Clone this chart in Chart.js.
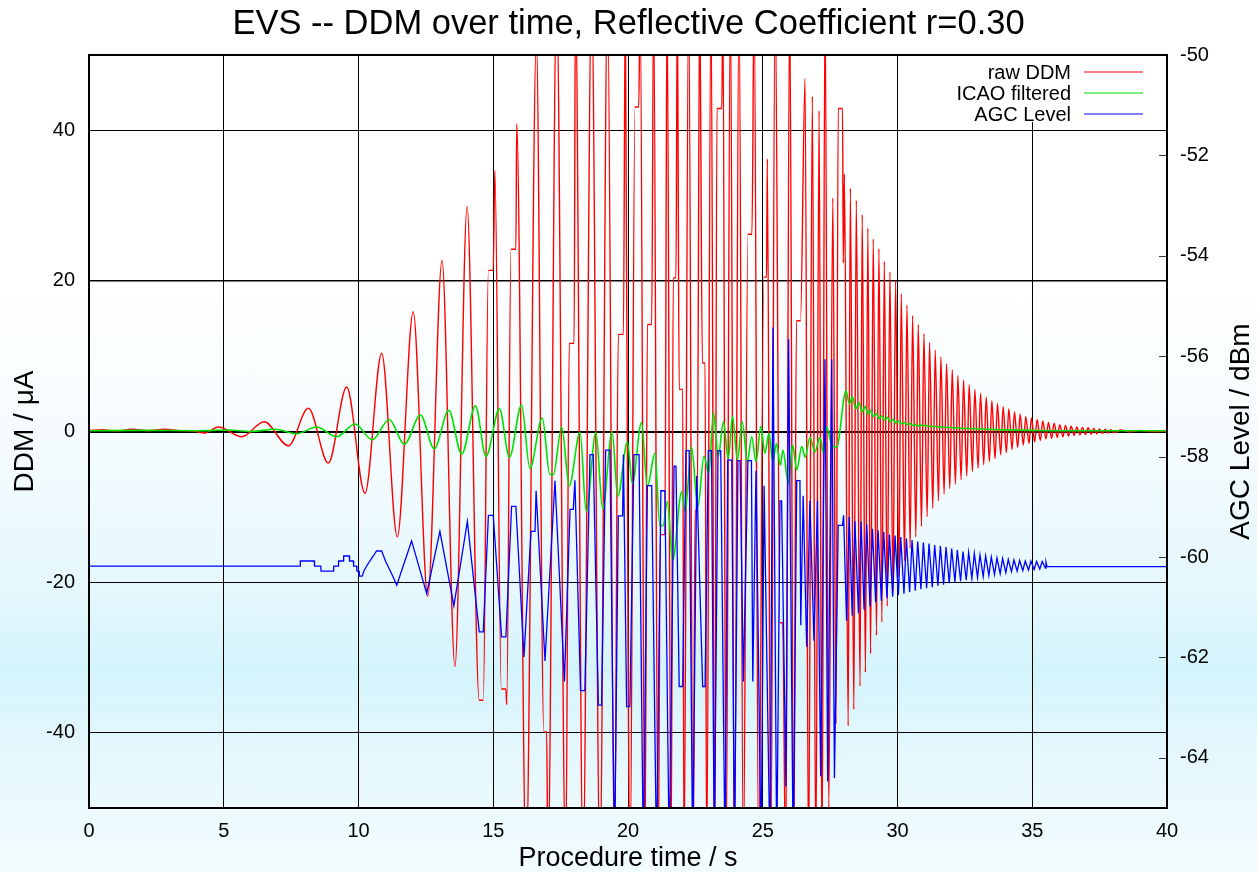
<!DOCTYPE html>
<html><head><meta charset="utf-8">
<script src="https://cdn.jsdelivr.net/npm/chart.js@4.4.1/dist/chart.umd.min.js"></script>
<style>
html,body{margin:0;padding:0;}
body{width:1257px;height:872px;overflow:hidden;
background:linear-gradient(to bottom,#ffffff 0px,#ffffff 270px,#f6fcfe 430px,#e6f8fd 580px,#d4f4fc 670px,#e3f7fd 745px,#f3fcfe 872px);}
#wrap{position:relative;width:1257px;height:872px}
</style></head><body><div id="wrap"><canvas id="c" width="1257" height="872"></canvas></div>
<script>
const titleText = 'EVS -- DDM over time, Reflective Coefficient r=0.30';
const xTitle = 'Procedure time / s';
const yTitle = 'DDM / \u03bcA';
const y2Title = 'AGC Level / dBm';
const seriesNames = ['raw DDM', 'ICAO filtered', 'AGC Level'];
const xTicks = [0, 5, 10, 15, 20, 25, 30, 35, 40];
const yTicks = [-40, -20, 0, 20, 40];
const y2Ticks = [-64, -62, -60, -58, -56, -54, -52, -50];

// raw DDM (uA): extremes
const ddmTime = [0,0.5,1.0,1.6,2.2,2.8,3.3,3.9,4.3,4.8,5.67,6.5,7.4,8.14,8.88,9.56,10.24,10.86,11.44,12.03,12.57,13.1,13.58,14.03,14.48,14.63,14.82,15.0,15.06,15.3,15.47,15.5,15.66,15.84,15.87,
16.22,16.6,16.88,16.98,17.03,17.35,17.69,17.82,18.0,18.05,18.33,18.65,18.96,19.24,19.5,19.64,19.83,19.9,20.01,20.08,20.26,20.4,20.45,20.63,20.72,20.88,20.95,21.12,21.2,21.37,21.45,21.6,21.68,21.78,21.83,21.9,22.03,22.08,22.25,22.42,22.49,22.57,22.66,22.76,22.86,22.92,23.08,23.22,23.3,23.48,23.52,23.64,23.8,23.95,24.12,24.28,24.45,24.6,24.68,24.85,25.04,25.14,25.17,25.3,25.46,25.64,25.74,25.85,26.0,26.15,26.25,26.4,26.57,26.7,26.84,26.97,27.09,27.2,27.31,27.45,27.6,27.72,27.8,27.96,27.99,28.03,
28.17,28.25,28.38,28.47,28.61,28.69,28.81,28.90,29.00,29.10,29.22,29.31,29.42,29.51,29.62,29.72,29.83,29.93,30.05,30.14,30.26,30.35,30.47,30.56,30.68,30.77,30.89,30.98,31.10,31.19,31.31,31.40,31.52,31.61,31.73,31.82,31.94,32.03,32.15,32.24,32.36,32.45,32.57,32.66,32.78,32.87,32.99,33.08,33.20,33.29,33.41,33.50,33.62,33.71,33.83,33.92,34.04,34.13,34.25,34.34,34.46,34.55,34.67,34.76,34.88,34.97,35.09,35.18,35.30,35.39,35.51,35.60,35.72,35.81,35.93,36.02,36.14,36.23,36.35,36.44,36.56,36.65,36.77,36.86,36.98,37.07,37.19,37.28,37.40,37.49,37.61,37.70,37.82,37.91,38.03,38.3,38.6,39.0,39.5,40];
const ddmValue = [0.1,0.25,0.05,0.3,0.1,0.3,0.15,0.05,-0.2,0.6,-0.7,1.3,-1.9,3.1,-4.2,5.9,-8.2,10.4,-14.0,15.9,-21.9,22.7,-31.2,29.9,-35.7,-35.7,21.4,21.4,34.7,-34.2,-34.2,-36.3,24.2,24.2,40.9,
-58,52,-39.9,-39.9,-58,58,-58,11.7,11.7,58,-58,58,-58,58,-58,12.9,12.9,58,-34.1,-58,43.1,43.1,58,-58,14.2,14.2,58,-58,-13.7,-13.7,58,-58,20.4,20.4,58,5.6,5.6,-58,58,-58,-10.5,-10.5,58,9.1,9.1,-58,58,-58,42.9,42.9,58,-58,58,-58,58,-58,26.2,26.2,58,-58,20.5,20.5,36.2,-58,58,-25.4,-25.4,-58,58,-58,14.7,14.7,46.9,-58,44.5,-58,42.6,-58,58,-50,31,-38.8,42.9,42.9,22.4,34.2,
-39.1,32.3,-36.9,30.7,-33.8,28.8,-32.0,27.0,-29.5,25.6,-27.1,24.3,-25.3,22.6,-23.2,21.2,-21.3,20.0,-19.3,18.3,-17.2,16.8,-15.5,15.4,-14.0,14.2,-12.6,13.0,-11.3,11.8,-10.2,10.8,-9.2,9.9,-8.3,9.0,-7.6,8.2,-7.0,7.4,-6.4,6.8,-5.9,6.2,-5.3,5.6,-4.9,5.1,-4.4,4.6,-4.0,4.1,-3.6,3.7,-3.1,3.3,-2.8,3.0,-2.4,2.6,-2.1,2.3,-1.8,2.0,-1.6,1.8,-1.4,1.6,-1.2,1.4,-1.0,1.2,-0.9,1.1,-0.8,0.9,-0.7,0.8,-0.6,0.7,-0.5,0.6,-0.45,0.55,-0.4,0.5,-0.35,0.4,-0.3,0.35,-0.25,0.3,-0.2,0.25,-0.15,0.2,-0.05,0.15,0.0,0.05];

// ICAO filtered (uA)
const icaoTime = [0,2,4,5.2,6.0,6.9,7.7,8.45,9.19,9.87,10.51,11.14,11.70,12.30,12.81,13.35,13.83,14.34,14.73,15.23,15.6,16.05,16.36,16.82,17.1,17.23,17.54,17.82,18.22,18.45,18.81,19.06,19.41,19.62,19.98,20.16,20.5,20.72,21.0,21.18,21.3,21.46,21.66,21.99,22.12,22.36,22.59,22.82,23.0,23.17,23.35,23.54,23.72,23.88,24.06,24.24,24.43,24.59,24.75,24.93,25.08,25.23,25.37,25.51,25.65,25.75,25.95,26.11,26.26,26.45,26.57,26.75,26.94,27.12,27.25,27.37,27.56,27.74,28.09,28.21,28.33,28.45,28.58,28.68,28.8,28.9,29.0,29.1,29.22,29.32,29.42,29.52,29.63,29.73,29.84,29.94,30.05,30.15,30.26,30.36,30.47,30.57,30.68,30.78,30.89,31.2,31.6,32.1,32.6,33.3,34,35,36,40];
const icaoValue = [0.1,0.15,0.1,0.2,0.0,0.3,-0.3,0.6,-0.7,1.0,-1.1,1.6,-1.7,2.2,-2.3,2.8,-3.0,3.4,-3.3,3.0,-3.4,3.5,-4.9,1.8,-5.7,-5.7,0.6,-7.2,-0.1,-10.6,-0.1,-10.3,0.0,-8.6,-1.4,-6.9,1.2,-7.3,-2.9,-12.5,-12.5,-9.3,-17.1,-8.0,-10.6,-2.1,-10.0,-3.3,-5.5,2.5,-3.3,1.3,-3.6,2.0,-3.8,1.3,-4.0,-0.7,-4.0,0.7,-2.9,-0.2,-4.0,-1.6,-4.5,-2.5,-6.9,-1.8,-5.1,-2.0,-3.4,-0.8,-2.7,-0.8,-2.8,0.6,-1.8,-2.1,5.4,3.7,4.6,3.0,3.8,2.6,3.3,2.3,2.8,2.0,2.4,1.7,2.1,1.5,1.9,1.3,1.6,1.1,1.4,1.0,1.2,0.9,1.05,0.8,0.95,0.7,0.85,0.7,0.6,0.5,0.4,0.3,0.22,0.15,0.1,0.1];

// AGC level (dBm)
const agcTime = [0,7.83,7.84,8.36,8.37,8.6,8.61,9.07,9.08,9.25,9.26,9.44,9.45,9.66,9.67,9.81,9.82,9.93,9.94,10.02,10.03,10.14,10.2,10.3,10.42,10.55,10.67,10.86,11.0,11.2,11.42,11.97,12.53,13.02,13.54,14.04,14.48,14.63,14.82,15.0,15.31,15.47,15.68,15.84,16.14,16.4,16.55,16.59,16.92,17.29,17.64,17.85,17.97,18.03,18.24,18.4,18.59,18.71,18.9,19.02,19.17,19.33,
19.5,19.64,19.8,19.83,19.95,20.07,20.22,20.41,20.57,20.72,20.88,21.06,21.22,21.37,21.53,21.71,21.78,21.9,22.03,22.15,22.27,22.4,22.55,22.77,22.86,22.98,23.1,23.2,23.34,23.44,23.6,23.7,23.85,23.95,24.08,24.16,24.28,24.45,24.58,24.63,24.75,24.94,25.05,25.27,25.38,25.52,25.64,25.7,25.86,25.96,26.13,26.26,26.38,26.41,26.5,26.63,26.75,26.9,27.03,27.15,27.31,27.41,27.56,27.66,27.8,27.96,28.0,
28.11,28.21,28.32,28.42,28.55,28.65,28.76,28.86,28.98,29.07,29.19,29.28,29.4,29.49,29.61,29.7,29.82,29.91,30.03,30.12,30.24,30.33,30.45,30.54,30.66,30.75,30.87,30.96,31.08,31.17,31.29,31.38,31.5,31.59,31.71,31.8,31.92,32.01,32.13,32.22,32.34,32.43,32.55,32.64,32.76,32.85,32.97,33.06,33.18,33.27,33.39,33.48,33.6,33.69,33.81,33.9,34.02,34.11,34.23,34.32,34.44,34.53,34.65,34.74,34.86,34.95,35.07,35.16,35.28,35.37,35.49,35.51,35.55,40];
const agcValue = [-60.18,-60.18,-60.08,-60.08,-60.18,-60.18,-60.28,-60.28,-60.18,-60.18,-60.08,-60.08,-59.98,-59.98,-60.08,-60.08,-60.18,-60.18,-60.28,-60.28,-60.38,-60.38,-60.28,-60.18,-60.08,-59.98,-59.88,-59.88,-60.08,-60.3,-60.56,-59.68,-60.73,-59.49,-60.97,-59.29,-61.49,-61.49,-59.17,-59.17,-61.59,-61.59,-58.99,-58.99,-61.99,-59.49,-59.49,-58.68,-62.07,-58.48,-62.48,-59.05,-59.05,-58.47,-62.66,-62.66,-57.96,-57.96,-62.95,-62.95,-57.87,-57.87,
-66,-59.18,-59.18,-57.96,-62.98,-62.98,-57.96,-57.96,-66,-58.58,-58.58,-66,-58.68,-58.68,-66,-58.19,-58.19,-62.58,-62.58,-57.88,-57.88,-66,-58.38,-62.58,-62.58,-57.88,-57.88,-66,-57.88,-57.88,-66,-58.07,-58.07,-66,-58.08,-58.08,-62.48,-58.08,-58.08,-62.48,-58.28,-66,-58.58,-66,-55.43,-66,-58.88,-58.88,-64.57,-55.66,-66,-58.48,-58.48,-61.36,-58.78,-61.79,-58.88,-61.67,-58.88,-64.37,-56.06,-64.47,-56.06,-64.4,-59.37,-59.37,-59.17,
-61.27,-59.2,-61.17,-59.29,-61.12,-59.3,-61.05,-59.35,-60.98,-59.44,-60.9,-59.47,-60.87,-59.5,-60.82,-59.55,-60.79,-59.57,-60.76,-59.6,-60.73,-59.63,-60.7,-59.66,-60.67,-59.69,-60.64,-59.71,-60.62,-59.73,-60.6,-59.76,-60.57,-59.78,-60.55,-59.8,-60.52,-59.83,-60.5,-59.86,-60.48,-59.89,-60.46,-59.91,-60.43,-59.93,-60.41,-59.96,-60.39,-59.98,-60.37,-60.0,-60.35,-60.02,-60.33,-60.03,-60.31,-60.05,-60.29,-60.06,-60.28,-60.07,-60.27,-60.08,-60.26,-60.08,-60.25,-60.09,-60.24,-60.09,-60.22,-60.1,-60.19,-60.19];

const seriesColors = ['#ff0000', '#00e000', '#0000ff'];
const FONT = "'Liberation Sans', Arial, sans-serif";

function pts(t, v) { return t.map((x, i) => ({x: x, y: v[i]})); }

const frameLegend = {
  id: 'frameLegend',
  afterDatasetsDraw(chart) {
    const {ctx, chartArea: a} = chart;
    ctx.save();
    // key area (opaque, no border)
    ctx.fillStyle = '#ffffff';
    ctx.fillRect(945, a.top, a.right - 945, 67);
    ctx.font = '20px ' + FONT;
    ctx.textAlign = 'right';
    ctx.textBaseline = 'middle';
    chart.data.datasets.forEach((ds, i) => {
      const y = a.top + 17 + i * 21;
      ctx.fillStyle = '#000';
      ctx.fillText(ds.label, a.right - 96, y + 1);
      ctx.strokeStyle = ds.borderColor;
      ctx.lineWidth = 1.2;
      ctx.beginPath();
      ctx.moveTo(a.right - 83, y);
      ctx.lineTo(a.right - 24, y);
      ctx.stroke();
    });
    // inward ticks of right axis
    const s2 = chart.scales.y2;
    ctx.strokeStyle = '#333';
    ctx.lineWidth = 1;
    y2Ticks.forEach(v => {
      const py = Math.round(s2.getPixelForValue(v)) + 0.5;
      ctx.beginPath();
      ctx.moveTo(a.right - 8, py);
      ctx.lineTo(a.right, py);
      ctx.stroke();
    });
    // frame
    ctx.strokeStyle = '#000';
    ctx.lineWidth = 2;
    ctx.strokeRect(a.left, a.top, a.right - a.left, a.bottom - a.top);
    // right axis title (reads bottom to top)
    ctx.translate(1241, (a.top + a.bottom) / 2);
    ctx.rotate(-Math.PI / 2);
    ctx.font = '28px ' + FONT;
    ctx.textAlign = 'center';
    ctx.fillStyle = '#000';
    ctx.fillText(y2Title, 0, 0);
    ctx.restore();
  }
};

new Chart(document.getElementById('c'), {
  type: 'line',
  data: {
    datasets: [
      {label: seriesNames[0], data: pts(ddmTime, ddmValue), borderColor: seriesColors[0], borderWidth: 1.4, pointRadius: 0, cubicInterpolationMode: 'monotone', yAxisID: 'y', order: 3},
      {label: seriesNames[1], data: pts(icaoTime, icaoValue), borderColor: seriesColors[1], borderWidth: 1.6, pointRadius: 0, cubicInterpolationMode: 'monotone', yAxisID: 'y', order: 2},
      {label: seriesNames[2], data: pts(agcTime, agcValue), borderColor: seriesColors[2], borderWidth: 1.3, pointRadius: 0, tension: 0, yAxisID: 'y2', order: 1}
    ]
  },
  options: {
    responsive: false,
    animation: false,
    devicePixelRatio: 1,
    events: [],
    layout: {padding: 0},
    plugins: {
      legend: {display: false},
      tooltip: {enabled: false},
      title: {display: true, text: titleText, color: '#000',
        font: {family: FONT, size: 34.5, weight: 'normal', lineHeight: 1.2},
        padding: {top: 3.8, bottom: 9.8}}
    },
    scales: {
      x: {
        type: 'linear', min: 0, max: 40,
        afterBuildTicks: s => { s.ticks = xTicks.map(v => ({value: v})); },
        afterFit: s => { s.height = 64; },
        ticks: {color: '#000', font: {family: FONT, size: 20}, padding: 11, maxRotation: 0},
        grid: {color: '#000', lineWidth: 1, drawTicks: false},
        border: {display: true, color: '#000', width: 2},
        title: {display: true, text: xTitle, color: '#000', font: {family: FONT, size: 27, lineHeight: 1}, padding: {top: 0, bottom: 0}}
      },
      y: {
        position: 'left', min: -50, max: 50,
        afterBuildTicks: s => { s.ticks = yTicks.map(v => ({value: v})); },
        afterFit: s => { s.width = 89; },
        ticks: {color: '#000', font: {family: FONT, size: 20}, padding: 14},
        grid: {color: '#000', drawTicks: false, lineWidth: c => (c.tick && c.tick.value === 0) ? 2 : ((c.tick && c.tick.value === 20) ? 1.6 : 1)},
        border: {display: true, color: '#000', width: 2},
        title: {display: true, text: yTitle, color: '#000', font: {family: FONT, size: 28, lineHeight: 1}, padding: {top: 11, bottom: 0}}
      },
      y2: {
        position: 'right', min: -65, max: -50,
        afterBuildTicks: s => { s.ticks = y2Ticks.map(v => ({value: v})); },
        afterFit: s => { s.width = 90; },
        ticks: {color: '#000', font: {family: FONT, size: 20}, padding: 13},
        grid: {drawOnChartArea: false, drawTicks: false},
        border: {display: true, color: '#000', width: 2}
      }
    }
  },
  plugins: [frameLegend]
});
</script>
</body></html>
